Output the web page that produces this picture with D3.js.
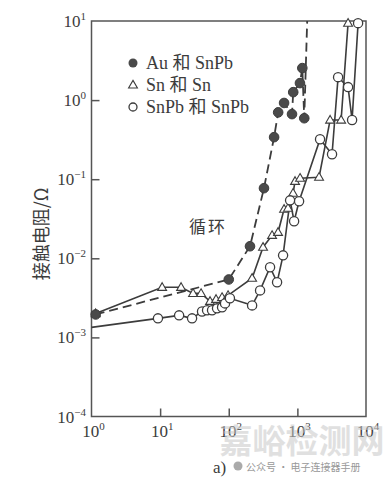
<!DOCTYPE html>
<html><head><meta charset="utf-8">
<script src="https://cdnjs.cloudflare.com/ajax/libs/d3/7.8.5/d3.min.js"></script>
<style>body{margin:0;background:#fff}svg{display:block}</style>
</head><body><svg id="c" width="383" height="481"></svg>
<script>
// ---- data ----
const xTicks = [1, 10, 100, 1000, 10000];
const xTickExp = ["0", "1", "2", "3", "4"];
const yTicks = [1e-4, 1e-3, 1e-2, 1e-1, 1, 10];
const yTickExp = ["−4", "−3", "−2", "−1", "0", "1"];

const auX = [1.15, 100, 204, 326, 458, 525, 640, 835, 870, 1090, 1180, 1260];
const auY = [1.95e-3, 5.4e-3, 0.0142, 0.077, 0.34, 0.70, 0.92, 0.665, 1.26, 1.64, 2.54, 0.59];
const auTailX = [1260, 1390];
const auTailY = [0.59, 10];

const snX = [1.15, 10.7, 20.2, 30.2, 39.5, 53.4, 65.3, 79.9, 97.7, 219, 316, 428, 523, 640, 731, 865, 925, 1095, 2070, 3000, 4340, 5480];
const snY = [2.0e-3, 4.3e-3, 4.3e-3, 3.6e-3, 3.6e-3, 2.86e-3, 3.03e-3, 3.2e-3, 3.4e-3, 5.6e-3, 0.0138, 0.0195, 0.0213, 0.0417, 0.043, 0.0665, 0.094, 0.103, 0.106, 0.56, 0.56, 9.4];

const snpbStartX = 1, snpbStartY = 1.34e-3; // line start, no marker
const snpbX = [9.3, 18.9, 29.2, 40.8, 48.3, 57.1, 67.5, 79.9, 88.3, 104, 219, 286, 400, 506, 619, 783, 896, 1059, 2140, 3200, 3920, 5480, 6270, 7670];
const snpbY = [1.74e-3, 1.9e-3, 1.74e-3, 2.13e-3, 2.2e-3, 2.2e-3, 2.33e-3, 2.4e-3, 2.69e-3, 3.12e-3, 2.54e-3, 3.93e-3, 7.7e-3, 4.97e-3, 0.0109, 0.054, 0.0294, 0.0527, 0.32, 0.207, 1.95, 1.46, 0.56, 9.4];

const legendLabels = ["Au 和 SnPb", "Sn 和 Sn", "SnPb 和 SnPb"];
const yTitle = "接触电阻/Ω";
const noteText = "循环";
const caption = "a)";

// ---- drawing ----
const svg = d3.select("#c");
const ink = "#3c3c3c";
const serif = "'Liberation Serif','Noto Sans CJK SC',serif";
const x = d3.scaleLog().domain([1, 1e4]).range([91.5, 366]);
const y = d3.scaleLog().domain([1e-4, 10]).range([416.5, 21]);

// frame
svg.append("rect").attr("x", x(1)).attr("y", y(10)).attr("width", x(1e4) - x(1)).attr("height", y(1e-4) - y(10))
  .attr("fill", "none").attr("stroke", "#555").attr("stroke-width", 1.5);

// axes with inward ticks
const xa = svg.append("g").attr("transform", `translate(0,${y(1e-4)})`)
  .call(d3.axisBottom(x).tickValues(xTicks.slice(1, 4)).tickSize(-8).tickFormat(""));
const ya = svg.append("g").attr("transform", `translate(${x(1)},0)`)
  .call(d3.axisLeft(y).tickValues(yTicks.slice(1, 5)).tickSize(-8).tickFormat(""));
[xa, ya].forEach(g => { g.select(".domain").remove(); g.selectAll("line").attr("stroke", "#555").attr("stroke-width", 1.5); });

function pow10(g, base, exp) {
  const t = g.append("text").attr("font-family", serif).attr("font-size", 17).attr("fill", ink);
  t.append("tspan").text(base);
  t.append("tspan").attr("dy", -7).attr("font-size", 11).text(exp);
  return t;
}
xTicks.forEach((v, i) => {
  pow10(svg, "10", xTickExp[i]).attr("x", x(v) + 2).attr("y", 437).attr("text-anchor", "middle");
});
yTicks.forEach((v, i) => {
  pow10(svg, "10", yTickExp[i]).attr("x", 86).attr("y", y(v) + 6).attr("text-anchor", "end");
});

// y title
svg.append("text").attr("transform", `translate(48,${234}) rotate(-90)`).attr("text-anchor", "middle")
  .attr("font-family", "'Noto Sans CJK SC'").attr("font-size", 18).attr("fill", ink).text(yTitle);

// lines
const line = d3.line().x(d => x(d[0])).y(d => y(d[1]));
const auPts = auX.map((v, i) => [v, auY[i]]);
const snPts = snX.map((v, i) => [v, snY[i]]);
const snpbPts = snpbX.map((v, i) => [v, snpbY[i]]);

svg.append("path").datum(auPts.concat(auTailX.map((v, i) => [v, auTailY[i]]).slice(1)))
  .attr("d", line).attr("fill", "none").attr("stroke", ink).attr("stroke-width", 1.8).attr("stroke-dasharray", "9,5");
svg.append("path").datum(snPts).attr("d", line).attr("fill", "none").attr("stroke", ink).attr("stroke-width", 1.6);
svg.append("path").datum([[snpbStartX, snpbStartY]].concat(snpbPts)).attr("d", line).attr("fill", "none").attr("stroke", ink).attr("stroke-width", 1.6);

// markers
const tri = d3.symbol().type(d3.symbolTriangle).size(34);
svg.selectAll(".sn").data(snPts).join("path").attr("class", "sn")
  .attr("transform", d => `translate(${x(d[0])},${y(d[1]) + 0.5})`).attr("d", tri)
  .attr("fill", "#fff").attr("stroke", ink).attr("stroke-width", 1.1);
svg.selectAll(".snpb").data(snpbPts).join("circle").attr("class", "snpb")
  .attr("cx", d => x(d[0])).attr("cy", d => y(d[1])).attr("r", 4.6)
  .attr("fill", "#fff").attr("stroke", ink).attr("stroke-width", 1.3);
svg.selectAll(".au").data(auPts).join("circle").attr("class", "au")
  .attr("cx", d => x(d[0])).attr("cy", d => y(d[1])).attr("r", 4.8)
  .attr("fill", "#4a4a4a").attr("stroke", ink).attr("stroke-width", 1);

// legend
const lg = svg.append("g");
const ly = [63, 85, 107];
lg.append("circle").attr("cx", 133).attr("cy", ly[0]).attr("r", 4.5).attr("fill", "#4a4a4a");
lg.append("path").attr("transform", `translate(133,${ly[1] + 0.5})`).attr("d", tri).attr("fill", "#fff").attr("stroke", ink).attr("stroke-width", 1.1);
lg.append("circle").attr("cx", 133).attr("cy", ly[2]).attr("r", 4).attr("fill", "#fff").attr("stroke", ink).attr("stroke-width", 1.3);
legendLabels.forEach((t, i) => {
  lg.append("text").attr("x", 146).attr("y", ly[i] + 6).attr("font-family", serif).attr("font-size", 18)
    .attr("fill", ink).text(t);
});

// annotation
svg.append("text").attr("x", 208).attr("y", 233).attr("text-anchor", "middle").attr("letter-spacing", 2)
  .attr("font-family", "'Noto Sans CJK SC'").attr("font-size", 17).attr("fill", ink).text(noteText);

// caption + watermark
svg.append("text").attr("x", 213).attr("y", 473).attr("font-family", serif).attr("font-size", 17).attr("fill", ink).text(caption);
svg.append("text").attr("x", 302).attr("y", 453).attr("text-anchor", "middle").attr("font-family", "'Noto Sans CJK SC'")
  .attr("font-size", 33).attr("font-weight", 700).attr("fill", "#c8c8c8").attr("opacity", 0.55).text("嘉峪检测网");
svg.append("circle").attr("cx", 238).attr("cy", 466).attr("r", 4.5).attr("fill", "#aaa");
svg.append("text").attr("x", 246).attr("y", 471).attr("font-family", "'Noto Sans CJK SC'").attr("font-size", 10)
  .attr("fill", "#999").text("公众号 · 电子连接器手册");
</script></body></html>
